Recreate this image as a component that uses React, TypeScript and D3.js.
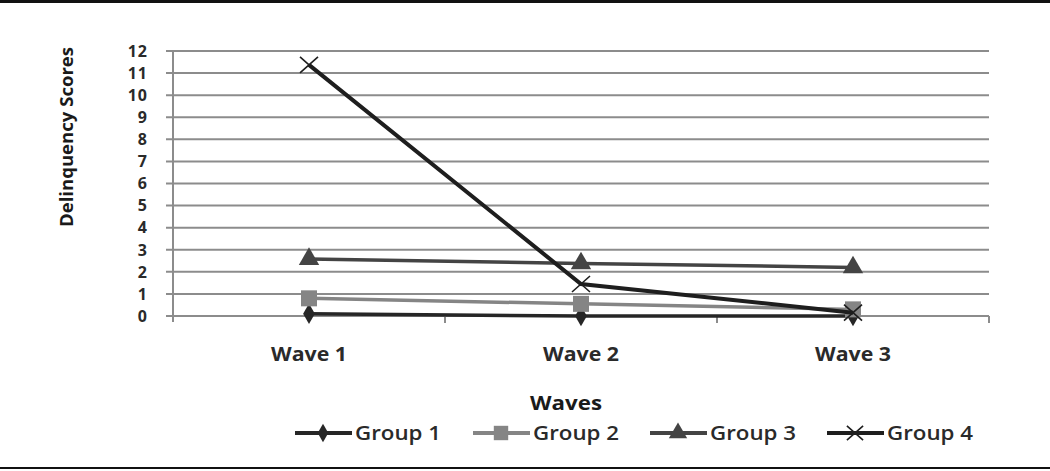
import React, { useEffect, useRef } from 'react';
import * as d3 from 'd3';

const waves = ['Wave 1', 'Wave 2', 'Wave 3'];
const group1 = [0.1, 0.0, 0.0];
const group2 = [0.8, 0.55, 0.3];
const group3 = [2.58, 2.38, 2.2];
const group4 = [11.37, 1.45, 0.15];
const yTicks = [0, 1, 2, 3, 4, 5, 6, 7, 8, 9, 10, 11, 12];

const series = [
  { name: 'Group 1', values: group1, color: '#262626', marker: 'diamond' },
  { name: 'Group 2', values: group2, color: '#858585', marker: 'square' },
  { name: 'Group 3', values: group3, color: '#444444', marker: 'triangle' },
  { name: 'Group 4', values: group4, color: '#1e1e1e', marker: 'x' },
];

const W = 1050;
const H = 471;
const FONT = "'Open Sans', sans-serif";

export default function App() {
  const svgRef = useRef<SVGSVGElement>(null);

  useEffect(() => {
    const svg = d3.select(svgRef.current);
    svg.selectAll('*').remove();

    const left = 173, right = 989, top = 51, bottom = 316;

    const x = d3.scaleBand().domain(waves).range([left, right]);
    const y = d3.scaleLinear().domain([0, 12]).range([bottom, top]);

    // frame lines
    svg.append('rect').attr('x', 0).attr('y', 0).attr('width', W).attr('height', 3).attr('fill', '#111');
    svg.append('rect').attr('x', 0).attr('y', 467).attr('width', W).attr('height', 2).attr('fill', '#111');

    // gridlines
    svg.append('g')
      .selectAll('line')
      .data(yTicks)
      .join('line')
      .attr('x1', left - 7)
      .attr('x2', right)
      .attr('y1', d => y(d))
      .attr('y2', d => y(d))
      .attr('stroke', '#8c8c8c')
      .attr('stroke-width', 2);

    // y axis line
    svg.append('line')
      .attr('x1', left).attr('x2', left)
      .attr('y1', top).attr('y2', bottom + 6)
      .attr('stroke', '#8c8c8c').attr('stroke-width', 2);

    // category tick marks
    const edges = [...waves.map(w => x(w) as number), right].slice(1);
    svg.append('g')
      .selectAll('line')
      .data(edges)
      .join('line')
      .attr('x1', d => d).attr('x2', d => d)
      .attr('y1', bottom).attr('y2', bottom + 7)
      .attr('stroke', '#8c8c8c').attr('stroke-width', 2);

    // y tick labels
    svg.append('g')
      .selectAll('text')
      .data(yTicks)
      .join('text')
      .attr('x', 148)
      .attr('y', d => y(d))
      .attr('dy', '0.36em')
      .attr('text-anchor', 'end')
      .attr('font-family', FONT)
      .attr('font-weight', 700)
      .attr('font-size', 16)
      .attr('letter-spacing', 1)
      .attr('fill', '#2a2a2a')
      .text(d => d);

    // x labels
    svg.append('g')
      .selectAll('text')
      .data(waves)
      .join('text')
      .attr('x', d => (x(d) as number) + x.bandwidth() / 2)
      .attr('y', 361)
      .attr('text-anchor', 'middle')
      .attr('font-family', FONT)
      .attr('font-weight', 700)
      .attr('font-size', 20)
      .attr('textLength', 76)
      .attr('lengthAdjust', 'spacingAndGlyphs')
      .attr('fill', '#2a2a2a')
      .text(d => d);

    // axis titles
    svg.append('text')
      .attr('transform', 'translate(73,137) rotate(-90)')
      .attr('text-anchor', 'middle')
      .attr('font-family', FONT)
      .attr('font-weight', 700)
      .attr('font-size', 18)
      .attr('textLength', 180)
      .attr('lengthAdjust', 'spacingAndGlyphs')
      .attr('fill', '#1a1a1a')
      .text('Delinquency Scores');

    svg.append('text')
      .attr('x', 566)
      .attr('y', 410)
      .attr('text-anchor', 'middle')
      .attr('font-family', FONT)
      .attr('font-weight', 700)
      .attr('font-size', 19)
      .attr('textLength', 72)
      .attr('lengthAdjust', 'spacingAndGlyphs')
      .attr('fill', '#1a1a1a')
      .text('Waves');

    const cx = (i: number) => (x(waves[i]) as number) + x.bandwidth() / 2;

    const drawMarker = (g: any, type: string, px: number, py: number, color: string, k = 1) => {
      if (type === 'diamond') {
        g.append('path')
          .attr('d', d3.symbol().type(d3.symbolDiamond).size(120 * k * k)())
          .attr('transform', `translate(${px},${py})`)
          .attr('fill', color);
      } else if (type === 'square') {
        const s = 16 * k;
        g.append('rect')
          .attr('x', px - s / 2).attr('y', py - s / 2)
          .attr('width', s).attr('height', s)
          .attr('fill', color);
      } else if (type === 'triangle') {
        g.append('path')
          .attr('d', d3.symbol().type(d3.symbolTriangle).size(180 * k * k)())
          .attr('transform', `translate(${px},${py})`)
          .attr('fill', color);
      } else {
        const a = 9 * k, b = 8 * k;
        g.append('path')
          .attr('d', `M${px - a},${py - b}L${px + a},${py + b}M${px - a},${py + b}L${px + a},${py - b}`)
          .attr('stroke', color)
          .attr('stroke-width', 1.6)
          .attr('fill', 'none');
      }
    };

    const line = d3.line<number>()
      .x((d, i) => cx(i))
      .y(d => y(d));

    series.forEach(s => {
      const g = svg.append('g');
      g.append('path')
        .datum(s.values)
        .attr('fill', 'none')
        .attr('stroke', s.color)
        .attr('stroke-width', s.marker === 'x' ? 4 : 3.5)
        .attr('d', line);
      s.values.forEach((v, i) => drawMarker(g, s.marker, cx(i), y(v), s.color));
    });

    // legend
    const legendX = [295, 473, 650, 827];
    const ly = 433;
    series.forEach((s, i) => {
      const g = svg.append('g');
      const lx = legendX[i];
      g.append('line')
        .attr('x1', lx).attr('x2', lx + 57)
        .attr('y1', ly).attr('y2', ly)
        .attr('stroke', s.color)
        .attr('stroke-width', 4);
      drawMarker(g, s.marker, lx + 28, ly, s.color, 0.9);
      g.append('text')
        .attr('x', lx + 60)
        .attr('y', ly)
        .attr('dy', '0.36em')
        .attr('font-family', FONT)
        .attr('font-weight', 600)
        .attr('font-size', 19)
        .attr('textLength', 86)
        .attr('lengthAdjust', 'spacingAndGlyphs')
        .attr('fill', '#2a2a2a')
        .text(s.name);
    });
  }, []);

  return (
    <svg
      ref={svgRef}
      width={W}
      height={H}
      style={{ position: 'absolute', left: 0, top: 0, background: '#fff' }}
    />
  );
}
